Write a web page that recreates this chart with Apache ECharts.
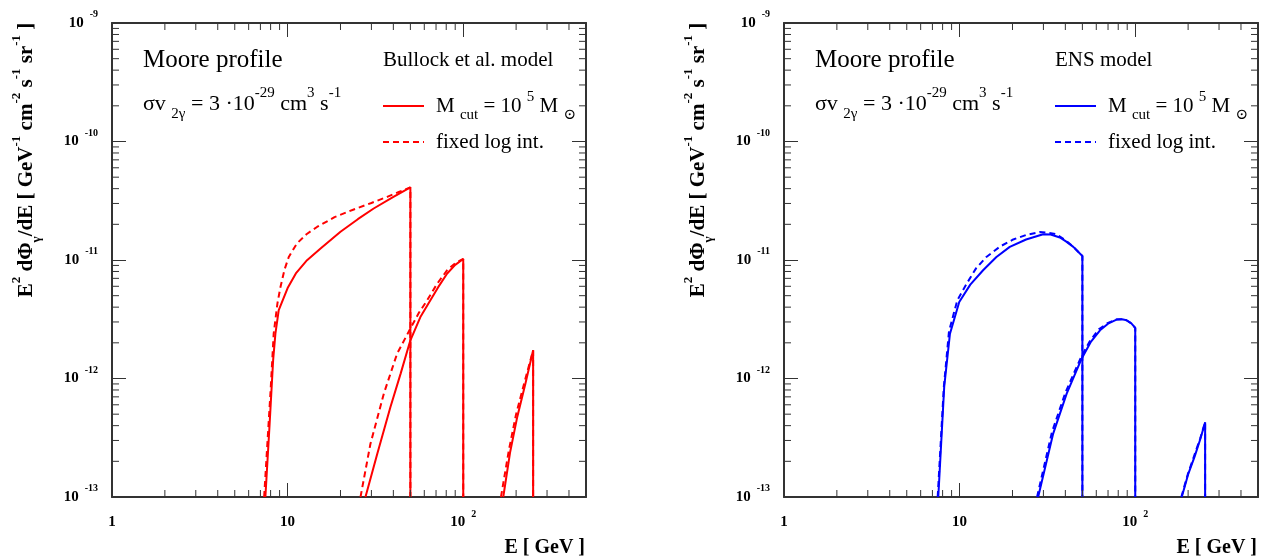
<!DOCTYPE html>
<html><head><meta charset="utf-8">
<script src="https://cdn.jsdelivr.net/npm/echarts@6/dist/echarts.min.js"></script>
<style>html,body{margin:0;padding:0;background:#fff}#c{width:1266px;height:556px}</style>
</head><body><div id="c"></div>
<script>
// axis ranges and ticks
const xMin = 1, xMax = 500, yMin = 1e-13, yMax = 1e-9;
const xMinorTicks = [2,3,4,5,6,7,8,9,20,30,40,50,60,70,80,90,200,300,400];
const yMinorTicks = [2e-13,3e-13,4e-13,5e-13,6e-13,7e-13,8e-13,9e-13,
  2e-12,3e-12,4e-12,5e-12,6e-12,7e-12,8e-12,9e-12,
  2e-11,3e-11,4e-11,5e-11,6e-11,7e-11,8e-11,9e-11,
  2e-10,3e-10,4e-10,5e-10,6e-10,7e-10,8e-10,9e-10];

// Left panel (Bullock et al. model), [E GeV, E^2 dPhi/dE]
const redSolidA = [[7.47,1e-13],[7.88,3.9e-13],[8.27,1.43e-12],[8.52,2.39e-12],[8.9,3.77e-12],[10.0,5.8e-12],[11.2,7.8e-12],[12.9,9.96e-12],[15.4,1.25e-11],[20.0,1.73e-11],[25.1,2.21e-11],[30.9,2.72e-11],[39.8,3.39e-11],[50,4.1e-11],[50,1e-13]];
const redDashedA = [[7.35,1e-13],[7.98,7.45e-13],[8.33,2.39e-12],[8.75,4.3e-12],[9.1,5.9e-12],[9.6,8.3e-12],[10.15,1.06e-11],[11.3,1.38e-11],[12.8,1.65e-11],[14.7,1.9e-11],[18.5,2.3e-11],[23.8,2.67e-11],[30,3.03e-11],[36.9,3.41e-11],[43,3.75e-11],[50,4.1e-11],[50,1e-13]];
const redSolidB = [[27.75,1e-13],[32.4,2.32e-13],[38.5,5.74e-13],[44,1.1e-12],[50,2.1e-12],[57,3.3e-12],[65,4.57e-12],[72,5.9e-12],[81,7.69e-12],[90,9.1e-12],[100,1.02e-11],[100,1e-13]];
const redDashedB = [[26,1e-13],[29.6,2.8e-13],[35.3,7.45e-13],[42,1.62e-12],[50,2.64e-12],[56,3.6e-12],[62.3,4.57e-12],[71,6.3e-12],[81,8.2e-12],[90,9.4e-12],[100,1.02e-11],[100,1e-13]];
const redSolidC = [[169,1e-13],[185,2.4e-13],[203,4.74e-13],[226,9.06e-13],[250,1.73e-12],[250,1e-13]];
const redDashedC = [[164,1e-13],[182,2.5e-13],[200,5e-13],[224,9.5e-13],[250,1.73e-12],[250,1e-13]];

// Right panel (ENS model)
const blueSolidA = [[7.56,1e-13],[8.17,8.5e-13],[8.81,2.39e-12],[9.95,4.42e-12],[11.5,6.2e-12],[13.6,8.2e-12],[16.2,1.06e-11],[19.3,1.29e-11],[23.9,1.49e-11],[29.9,1.65e-11],[33,1.64e-11],[37.2,1.55e-11],[40.5,1.43e-11],[44.4,1.29e-11],[50,1.08e-11],[50,1e-13]];
const blueDashedA = [[7.5,1e-13],[8.13,8.5e-13],[8.7,2.5e-12],[9.7,4.57e-12],[10.96,6.3e-12],[12.4,8.5e-12],[14.2,1.06e-11],[17,1.3e-11],[20.2,1.49e-11],[24,1.63e-11],[28.6,1.72e-11],[32,1.7e-11],[35.6,1.65e-11],[40.5,1.45e-11],[44.4,1.29e-11],[50,1.08e-11],[50,1e-13]];
const blueSolidB = [[28,1e-13],[34.1,3.43e-13],[40.7,7.45e-13],[49.5,1.47e-12],[56,2.05e-12],[63,2.55e-12],[70,2.9e-12],[78.3,3.14e-12],[84,3.16e-12],[89.3,3.1e-12],[95,2.92e-12],[100,2.67e-12],[100,1e-13]];
const blueDashedB = [[27.6,1e-13],[33.5,3.5e-13],[40,7.6e-13],[49,1.5e-12],[55,2.05e-12],[62,2.6e-12],[70,2.95e-12],[78,3.15e-12],[84,3.17e-12],[89,3.1e-12],[95,2.92e-12],[100,2.67e-12],[100,1e-13]];
const blueSolidC = [[184,1e-13],[200,1.55e-13],[218,2.2e-13],[235,3.1e-13],[250,4.27e-13],[250,1e-13]];
const blueDashedC = [[183,1e-13],[199,1.55e-13],[217,2.25e-13],[234,3.1e-13],[250,4.27e-13],[250,1e-13]];

const FONT = "'Liberation Serif', 'DejaVu Serif', serif";
const AX = '#333';

const richLbl = {
  b: {fontSize: 15, fontWeight: 'bold', fontFamily: FONT, color: '#000', padding: [6,0,6,0]},
  s: {fontSize: 10, fontWeight: 'bold', fontFamily: FONT, color: '#000', verticalAlign: 'top', padding: [0,0,0,6]}
};
function expOf(v){ const e = Math.log10(v); return Math.abs(e - Math.round(e)) < 1e-6 ? Math.round(e) : null; }
function fmtX(v){ const e = expOf(v); if (e === null) return ''; if (e === 0) return '{b|1}'; if (e === 1) return '{b|10}'; return '{b|10}{s|' + e + '}'; }
function fmtY(v){ const e = expOf(v); if (e === null) return ''; return '{b|10}{s|' + e + '}'; }

function xAxisCfg(gi, pos, lbl){
  return {type:'log', logBase:10, gridIndex:gi, position:pos, min:xMin, max:xMax,
    axisLine:{show:true, onZero:false, lineStyle:{color:AX, width:2}},
    axisTick:{show:true, inside:true, length:14, lineStyle:{color:AX, width:1}},
    minorTick:{show:false}, splitLine:{show:false},
    axisLabel:{show:lbl, margin:12, formatter:fmtX, rich:richLbl}};
}
function yAxisCfg(gi, pos, lbl){
  return {type:'log', logBase:10, gridIndex:gi, position:pos, min:yMin, max:yMax,
    axisLine:{show:true, onZero:false, lineStyle:{color:AX, width:2}},
    axisTick:{show:true, inside:true, length:14, lineStyle:{color:AX, width:1}},
    minorTick:{show:false}, splitLine:{show:false},
    axisLabel:{show:lbl, margin:14, formatter:fmtY, rich:richLbl}};
}
function lineS(data, gi, color, dashed){
  return {type:'line', xAxisIndex:gi*2, yAxisIndex:gi*2, data:data, showSymbol:false, symbol:'none',
    clip:true, smooth:false, silent:true, z:3,
    lineStyle:{color:color, width:2, type: dashed ? [6,4] : 'solid'}};
}
function minorS(gi){
  const st = {stroke:AX, lineWidth:1};
  return [{
    type:'custom', xAxisIndex:gi*2, yAxisIndex:gi*2, silent:true, clip:false, z:5,
    data: xMinorTicks.map(v => [v, yMin]),
    renderItem: function(p, api){
      const v = api.value(0);
      const b = api.coord([v, yMin]), t = api.coord([v, yMax]);
      return {type:'group', children:[
        {type:'line', shape:{x1:b[0], y1:b[1], x2:b[0], y2:b[1]-7}, style:st},
        {type:'line', shape:{x1:t[0], y1:t[1], x2:t[0], y2:t[1]+7}, style:st}]};
    }
  },{
    type:'custom', xAxisIndex:gi*2, yAxisIndex:gi*2, silent:true, clip:false, z:5,
    data: yMinorTicks.map(v => [xMin, v]),
    renderItem: function(p, api){
      const v = api.value(1);
      const l = api.coord([xMin, v]), r = api.coord([xMax, v]);
      return {type:'group', children:[
        {type:'line', shape:{x1:l[0], y1:l[1], x2:l[0]+7, y2:l[1]}, style:st},
        {type:'line', shape:{x1:r[0], y1:r[1], x2:r[0]-7, y2:r[1]}, style:st}]};
    }
  }];
}

function txt(x, y, text, rich, align, rot){
  const a = align || 'left';
  const el = {type:'text', x:x, y:y, silent:true, z:10,
    style:{text:text, rich:rich, align:a, textAlign:a, verticalAlign:'middle', textVerticalAlign:'middle'}};
  if (rot) el.rotation = rot;
  return el;
}
function panelGraphics(ox, color, model){
  const blk = {
    m: {fontSize:25, fontFamily:FONT, color:'#000'},
    b: {fontSize:22, fontFamily:FONT, color:'#000', padding:[7,0,7,0]},
    sub: {fontSize:15, fontFamily:FONT, color:'#000', verticalAlign:'bottom'},
    sup: {fontSize:15, fontFamily:FONT, color:'#000', verticalAlign:'top'}
  };
  const col = {
    t: {fontSize:21, fontFamily:FONT, color:color},
    b: {fontSize:21, fontFamily:FONT, color:color, padding:[6,0,6,0]},
    sub: {fontSize:15, fontFamily:FONT, color:color, verticalAlign:'bottom'},
    sup: {fontSize:15, fontFamily:FONT, color:color, verticalAlign:'top'}
  };
  const yt = {
    b: {fontSize:21, fontWeight:'bold', fontFamily:FONT, color:'#000', padding:[6,0,6,0]},
    sup: {fontSize:13, fontWeight:'bold', fontFamily:FONT, color:'#000', verticalAlign:'top'},
    sub: {fontSize:13, fontWeight:'bold', fontFamily:FONT, color:'#000', verticalAlign:'bottom'}
  };
  const xt = {b: {fontSize:20, fontWeight:'bold', fontFamily:FONT, color:'#000'}};
  return [
    txt(ox+143, 60, '{m|Moore profile}', blk),
    txt(ox+143, 104, '{b|σv }{sub|2γ}{b| = 3 ·10}{sup|-29}{b| cm}{sup|3}{b| s}{sup|-1}', blk),
    txt(ox+383, 60, '{t|' + model + '}', col),
    txt(ox+436, 106, '{b|M }{sub|cut}{b| = 10 }{sup|5}{b| M }{sub|⊙}', col),
    txt(ox+436, 142, '{t|fixed log int.}', col),
    {type:'line', silent:true, z:10, shape:{x1:ox+383, y1:106, x2:ox+424, y2:106}, style:{stroke:color, lineWidth:2}},
    {type:'line', silent:true, z:10, shape:{x1:ox+383, y1:142, x2:ox+424, y2:142}, style:{stroke:color, lineWidth:2, lineDash:[6,4]}},
    txt(ox+27, 160, '{b|E}{sup|2}{b| dΦ}{sub|γ}{b|/dE [ GeV}{sup|-1}{b| cm}{sup|-2}{b| s}{sup|-1}{b| sr}{sup|-1}{b| ]}', yt, 'center', Math.PI/2),
    txt(ox+585, 548, '{b|E [ GeV ]}', xt, 'right')
  ];
}

const chart = echarts.init(document.getElementById('c'), null, {renderer:'canvas'});
chart.setOption({
  animation:false,
  backgroundColor:'#fff',
  grid:[
    {left:112, top:23, width:474, height:474, containLabel:false, outerBoundsMode:'none'},
    {left:784, top:23, width:474, height:474, containLabel:false, outerBoundsMode:'none'}
  ],
  xAxis:[xAxisCfg(0,'bottom',true), xAxisCfg(0,'top',false), xAxisCfg(1,'bottom',true), xAxisCfg(1,'top',false)],
  yAxis:[yAxisCfg(0,'left',true), yAxisCfg(0,'right',false), yAxisCfg(1,'left',true), yAxisCfg(1,'right',false)],
  series:[].concat(
    [lineS(redSolidA,0,'#ff0000',false), lineS(redDashedA,0,'#ff0000',true),
     lineS(redSolidB,0,'#ff0000',false), lineS(redDashedB,0,'#ff0000',true),
     lineS(redSolidC,0,'#ff0000',false), lineS(redDashedC,0,'#ff0000',true),
     lineS(blueSolidA,1,'#0000ff',false), lineS(blueDashedA,1,'#0000ff',true),
     lineS(blueSolidB,1,'#0000ff',false), lineS(blueDashedB,1,'#0000ff',true),
     lineS(blueSolidC,1,'#0000ff',false), lineS(blueDashedC,1,'#0000ff',true)],
    minorS(0), minorS(1)),
  graphic:{elements:[].concat(panelGraphics(0,'#ff0000','Bullock et al. model'), panelGraphics(672,'#0000ff','ENS model'))}
});
</script></body></html>
